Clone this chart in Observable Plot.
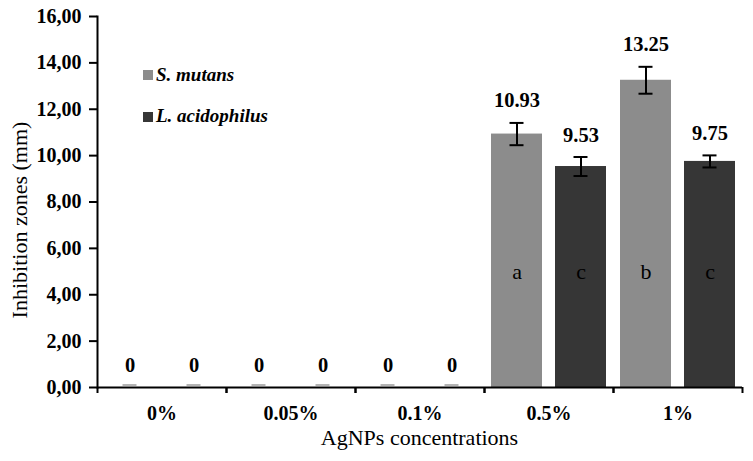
<!DOCTYPE html>
<html><head><meta charset="utf-8">
<script src="https://cdn.jsdelivr.net/npm/d3@7"></script>
<script src="https://cdn.jsdelivr.net/npm/@observablehq/plot@0.6"></script>
<style>body{margin:0;background:#fff}</style>
</head><body><div id="chart"></div>
<script>
const categories = ["0%", "0.05%", "0.1%", "0.5%", "1%"];
const series = ["S. mutans", "L. acidophilus"];
const seriesColors = ["#8c8c8c", "#363636"];
const sMutans = [0, 0, 0, 10.93, 13.25];
const lAcidophilus = [0, 0, 0, 9.53, 9.75];
const sMutansSD = [0, 0, 0, 0.48, 0.58];
const lAcidophilusSD = [0, 0, 0, 0.41, 0.26];
const sMutansLetters = ["", "", "", "a", "b"];
const lAcidophilusLetters = ["", "", "", "c", "c"];
const yTicks = [0, 2, 4, 6, 8, 10, 12, 14, 16];
const xTitle = "AgNPs concentrations";
const yTitle = "Inhibition zones (mm)";

const rows = [];
categories.forEach((c, i) => {
  rows.push({cat: c, series: series[0], value: sMutans[i], sd: sMutansSD[i], letter: sMutansLetters[i]});
  rows.push({cat: c, series: series[1], value: lAcidophilus[i], sd: lAcidophilusSD[i], letter: lAcidophilusLetters[i]});
});

const W = 753, H = 461, mL = 97, mR = 11, mT = 16, mB = 74;
const bandHalf = (W - mL - mR) / categories.length / 2;
const letterY = 5;
const font = "'Liberation Serif', 'Times New Roman', serif";
const capInset = 18.5;

const withErr = rows.filter(d => d.sd > 0);
const zeros = rows.filter(d => d.value === 0);

const plot = Plot.plot({
  width: W, height: H,
  marginLeft: mL, marginRight: mR, marginTop: mT, marginBottom: mB,
  style: {fontFamily: font, color: "#000", background: "#fff", overflow: "visible"},
  fx: {domain: categories, padding: 0, label: null},
  x: {domain: series, paddingInner: 0.21, paddingOuter: 0.105, axis: null},
  y: {domain: [0, 16]},
  color: {domain: series, range: seriesColors},
  marks: [
    Plot.barY(rows, {fx: "cat", x: "series", y: "value", fill: "series"}),
    Plot.tickY(zeros, {fx: "cat", x: "series", y: "value", stroke: "#b4b4b4", strokeWidth: 2, insetLeft: capInset, insetRight: capInset, dy: -2.5}),
    Plot.ruleY([0], {strokeWidth: 2}),
    Plot.frame({anchor: "left", facetAnchor: "left", strokeWidth: 2}),
    Plot.ruleX(withErr, {fx: "cat", x: "series", y1: d => d.value - d.sd, y2: d => d.value + d.sd, strokeWidth: 2}),
    Plot.tickY(withErr, {fx: "cat", x: "series", y: d => d.value - d.sd, strokeWidth: 2, insetLeft: capInset, insetRight: capInset}),
    Plot.tickY(withErr, {fx: "cat", x: "series", y: d => d.value + d.sd, strokeWidth: 2, insetLeft: capInset, insetRight: capInset}),
    Plot.text(rows, {fx: "cat", x: "series", y: d => d.value + d.sd, text: d => String(d.value), dy: -22, fontSize: 20.5, fontWeight: "bold", fill: "#000"}),
    Plot.text(rows.filter(d => d.letter), {fx: "cat", x: "series", y: () => letterY, text: "letter", fontSize: 22, fill: "#000"}),
    Plot.axisY({ticks: yTicks, tickSize: 8, tickPadding: 8, tickFormat: d => d.toFixed(2).replace(".", ","), fontSize: 20, fontWeight: "bold", strokeWidth: 2, label: null}),
    Plot.axisFx({anchor: "bottom", tickSize: 0, tickPadding: 18, fontSize: 20, fontWeight: "bold", label: null}),
    Plot.axisFx({anchor: "bottom", tickSize: 6, tickFormat: () => "", dx: -bandHalf, strokeWidth: 2, label: null}),
    Plot.axisFx({anchor: "bottom", tickSize: 6, tickFormat: () => "", dx: bandHalf, strokeWidth: 2, label: null})
  ]
});

document.getElementById("chart").appendChild(plot);
const svg = d3.select(plot);
const colorScale = plot.scale("color");

svg.append("text")
  .attr("x", (mL + W - mR) / 2).attr("y", 445)
  .attr("text-anchor", "middle").attr("font-size", 22).attr("fill", "#000")
  .style("font-family", font)
  .text(xTitle);
svg.append("text")
  .attr("transform", "translate(27,220) rotate(-90)")
  .attr("text-anchor", "middle").attr("font-size", 22).attr("fill", "#000")
  .style("font-family", font)
  .text(yTitle);

const lg = svg.append("g").attr("text-anchor", "start");
series.forEach((s, i) => {
  lg.append("rect").attr("x", 143).attr("y", 70 + i * 42).attr("width", 10).attr("height", 10)
    .attr("fill", colorScale.apply(s));
  lg.append("text").attr("x", 156).attr("y", 81 + i * 41)
    .attr("text-anchor", "start")
    .attr("font-size", 19).attr("font-weight", "bold").attr("font-style", "italic")
    .style("font-family", font).attr("fill", "#000").text(s);
});
</script>
</body></html>
